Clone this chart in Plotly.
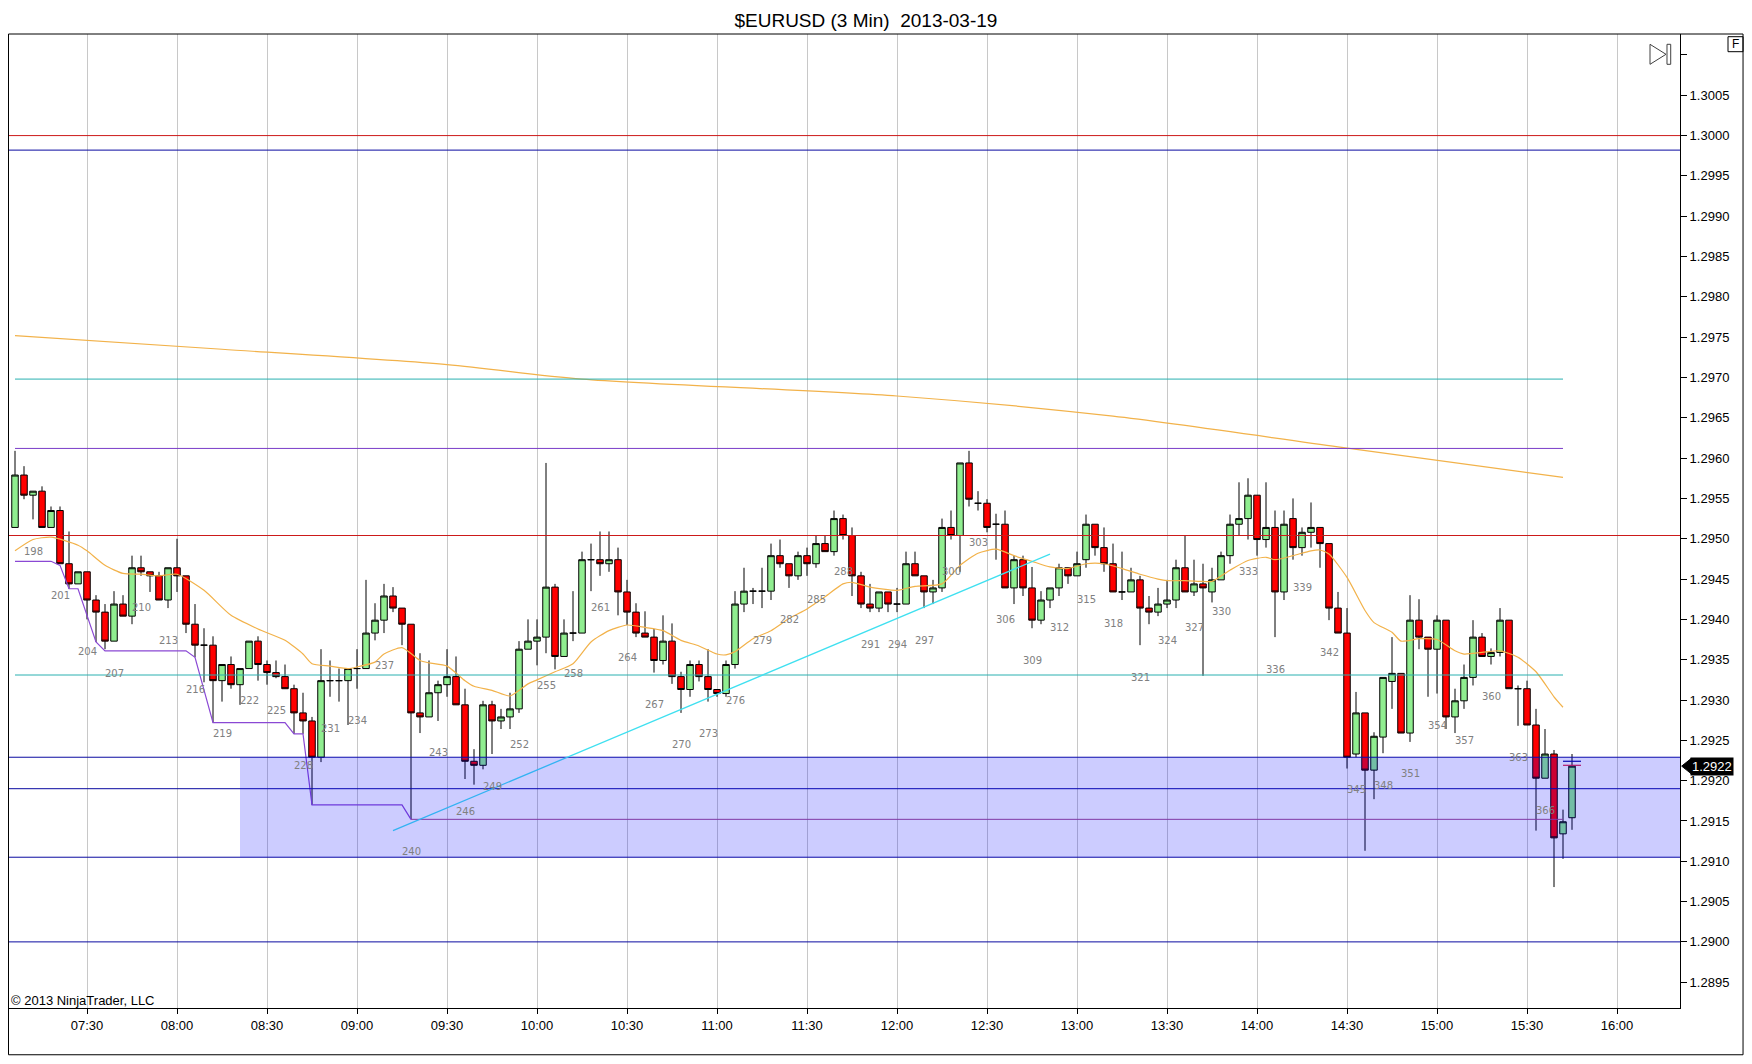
"""EURUSD 3-minute candlestick chart, 2013-03-19 session."""

import pandas as pd
import plotly.graph_objects as go

TITLE = "$EURUSD (3 Min)\u00a0 2013-03-19"
FIRST_BAR = 196
SESSION_START = "2013-03-19 07:06"
X_RANGE = ["2013-03-19 07:03:40", "2013-03-19 16:21:00"]
Y_RANGE = [1.28918, 1.30126]

# OHLC of bars 196 .. 369
opens = [
    1.29514, 1.29579, 1.29554, 1.29559, 1.29514, 1.29535, 1.29469, 1.29444, 1.29459, 1.29424,
    1.29409, 1.29373, 1.29419, 1.29404, 1.29464, 1.29459, 1.29454, 1.29424, 1.29464, 1.29454,
    1.29394, 1.29368, 1.29368, 1.29324, 1.29344, 1.29319, 1.29339, 1.29373, 1.29344, 1.29334,
    1.29329, 1.29314, 1.29284, 1.29274, 1.29229, 1.29324, 1.29324, 1.29324, 1.29339, 1.29339,
    1.29383, 1.29399, 1.29429, 1.29414, 1.29394, 1.29284, 1.29279, 1.29309, 1.29319, 1.29329,
    1.29294, 1.29224, 1.29219, 1.29294, 1.29274, 1.29279, 1.29289, 1.29363, 1.29373, 1.29378,
    1.29440, 1.29354, 1.29383, 1.29383, 1.29474, 1.29474, 1.29469, 1.29474, 1.29434, 1.29409,
    1.29383, 1.29378, 1.29349, 1.29373, 1.29329, 1.29313, 1.29344, 1.29329, 1.29313, 1.29308,
    1.29344, 1.29419, 1.29435, 1.29435, 1.29435, 1.29479, 1.29469, 1.29454, 1.29479, 1.29469,
    1.29494, 1.29484, 1.29525, 1.29504, 1.29454, 1.29419, 1.29414, 1.29434, 1.29419, 1.29419,
    1.29469, 1.29454, 1.29434, 1.29439, 1.29514, 1.29504, 1.29594, 1.29544, 1.29544, 1.29518,
    1.29518, 1.29439, 1.29474, 1.29439, 1.29399, 1.29424, 1.29439, 1.29464, 1.29454, 1.29474,
    1.29518, 1.29489, 1.29469, 1.29434, 1.29434, 1.29449, 1.29414, 1.29409, 1.29419, 1.29424,
    1.29464, 1.29434, 1.29444, 1.29434, 1.29449, 1.29479, 1.29518, 1.29525, 1.29554, 1.29499,
    1.29514, 1.29434, 1.29525, 1.29489, 1.29508, 1.29514, 1.29494, 1.29414, 1.29383, 1.29233,
    1.29284, 1.29213, 1.29254, 1.29323, 1.29333, 1.29259, 1.29399, 1.29378, 1.29363, 1.29399,
    1.29279, 1.29299, 1.29328, 1.29378, 1.29354, 1.29359, 1.29399, 1.29314, 1.29314, 1.29269,
    1.29203, 1.29233, 1.29134, 1.29154,
]
highs = [
    1.29609, 1.29590, 1.29559, 1.29565, 1.29540, 1.29540, 1.29509, 1.29459, 1.29459, 1.29430,
    1.29419, 1.29435, 1.29430, 1.29479, 1.29479, 1.29459, 1.29459, 1.29464, 1.29500, 1.29454,
    1.29419, 1.29389, 1.29379, 1.29344, 1.29354, 1.29339, 1.29373, 1.29379, 1.29349, 1.29349,
    1.29344, 1.29319, 1.29309, 1.29279, 1.29363, 1.29349, 1.29339, 1.29339, 1.29363, 1.29449,
    1.29420, 1.29444, 1.29440, 1.29414, 1.29394, 1.29358, 1.29349, 1.29324, 1.29363, 1.29354,
    1.29314, 1.29239, 1.29299, 1.29299, 1.29289, 1.29309, 1.29373, 1.29400, 1.29400, 1.29594,
    1.29444, 1.29400, 1.29435, 1.29484, 1.29494, 1.29509, 1.29509, 1.29489, 1.29449, 1.29420,
    1.29410, 1.29388, 1.29405, 1.29395, 1.29335, 1.29349, 1.29349, 1.29363, 1.29313, 1.29349,
    1.29435, 1.29464, 1.29439, 1.29464, 1.29494, 1.29499, 1.29469, 1.29484, 1.29489, 1.29504,
    1.29504, 1.29535, 1.29530, 1.29514, 1.29459, 1.29444, 1.29434, 1.29434, 1.29439, 1.29484,
    1.29484, 1.29454, 1.29449, 1.29525, 1.29535, 1.29594, 1.29609, 1.29559, 1.29549, 1.29531,
    1.29535, 1.29479, 1.29479, 1.29465, 1.29435, 1.29439, 1.29469, 1.29464, 1.29484, 1.29530,
    1.29518, 1.29514, 1.29494, 1.29484, 1.29464, 1.29454, 1.29429, 1.29439, 1.29449, 1.29474,
    1.29504, 1.29474, 1.29469, 1.29464, 1.29484, 1.29530, 1.29570, 1.29575, 1.29554, 1.29570,
    1.29535, 1.29535, 1.29550, 1.29514, 1.29545, 1.29514, 1.29494, 1.29434, 1.29414, 1.29310,
    1.29284, 1.29260, 1.29328, 1.29378, 1.29333, 1.29430, 1.29425, 1.29378, 1.29405, 1.29399,
    1.29314, 1.29344, 1.29399, 1.29383, 1.29364, 1.29414, 1.29399, 1.29318, 1.29324, 1.29289,
    1.29264, 1.29238, 1.29164, 1.29233,
]
lows = [
    1.29514, 1.29549, 1.29524, 1.29514, 1.29514, 1.29469, 1.29438, 1.29444, 1.29400, 1.29372,
    1.29363, 1.29373, 1.29404, 1.29394, 1.29454, 1.29434, 1.29424, 1.29414, 1.29434, 1.29383,
    1.29353, 1.29322, 1.29272, 1.29298, 1.29314, 1.29294, 1.29339, 1.29324, 1.29319, 1.29327,
    1.29314, 1.29258, 1.29258, 1.29170, 1.29223, 1.29304, 1.29298, 1.29269, 1.29314, 1.29339,
    1.29374, 1.29383, 1.29409, 1.29368, 1.29152, 1.29259, 1.29279, 1.29274, 1.29304, 1.29294,
    1.29202, 1.29195, 1.29214, 1.29233, 1.29264, 1.29264, 1.29284, 1.29363, 1.29343, 1.29358,
    1.29338, 1.29354, 1.29373, 1.29383, 1.29435, 1.29454, 1.29459, 1.29405, 1.29393, 1.29378,
    1.29378, 1.29334, 1.29344, 1.29320, 1.29284, 1.29304, 1.29323, 1.29298, 1.29304, 1.29304,
    1.29339, 1.29409, 1.29419, 1.29414, 1.29424, 1.29464, 1.29439, 1.29449, 1.29454, 1.29464,
    1.29484, 1.29479, 1.29499, 1.29429, 1.29414, 1.29409, 1.29409, 1.29409, 1.29409, 1.29419,
    1.29454, 1.29414, 1.29419, 1.29434, 1.29499, 1.29459, 1.29540, 1.29535, 1.29508, 1.29474,
    1.29439, 1.29419, 1.29429, 1.29389, 1.29394, 1.29414, 1.29429, 1.29444, 1.29454, 1.29464,
    1.29479, 1.29459, 1.29434, 1.29424, 1.29434, 1.29368, 1.29394, 1.29404, 1.29414, 1.29414,
    1.29434, 1.29429, 1.29330, 1.29421, 1.29449, 1.29469, 1.29504, 1.29499, 1.29479, 1.29489,
    1.29378, 1.29424, 1.29474, 1.29479, 1.29489, 1.29464, 1.29399, 1.29383, 1.29215, 1.29229,
    1.29113, 1.29177, 1.29234, 1.29289, 1.29259, 1.29248, 1.29363, 1.29304, 1.29308, 1.29264,
    1.29259, 1.29289, 1.29318, 1.29354, 1.29344, 1.29354, 1.29314, 1.29268, 1.29269, 1.29138,
    1.29203, 1.29068, 1.29103, 1.29139,
]
closes = [
    1.29579, 1.29554, 1.29559, 1.29514, 1.29535, 1.29469, 1.29444, 1.29459, 1.29424, 1.29409,
    1.29373, 1.29419, 1.29404, 1.29464, 1.29459, 1.29454, 1.29424, 1.29464, 1.29454, 1.29394,
    1.29368, 1.29368, 1.29324, 1.29344, 1.29319, 1.29339, 1.29373, 1.29344, 1.29334, 1.29329,
    1.29314, 1.29284, 1.29274, 1.29229, 1.29324, 1.29324, 1.29324, 1.29339, 1.29339, 1.29383,
    1.29399, 1.29429, 1.29414, 1.29394, 1.29284, 1.29279, 1.29309, 1.29319, 1.29329, 1.29294,
    1.29224, 1.29219, 1.29294, 1.29274, 1.29279, 1.29289, 1.29363, 1.29373, 1.29378, 1.29440,
    1.29354, 1.29383, 1.29383, 1.29474, 1.29474, 1.29469, 1.29474, 1.29434, 1.29409, 1.29383,
    1.29378, 1.29349, 1.29373, 1.29329, 1.29313, 1.29344, 1.29329, 1.29313, 1.29308, 1.29344,
    1.29419, 1.29435, 1.29435, 1.29435, 1.29479, 1.29469, 1.29454, 1.29479, 1.29469, 1.29494,
    1.29484, 1.29525, 1.29504, 1.29454, 1.29419, 1.29414, 1.29434, 1.29419, 1.29419, 1.29469,
    1.29454, 1.29434, 1.29439, 1.29514, 1.29504, 1.29594, 1.29549, 1.29544, 1.29514, 1.29518,
    1.29439, 1.29474, 1.29439, 1.29399, 1.29424, 1.29439, 1.29464, 1.29454, 1.29469, 1.29518,
    1.29489, 1.29469, 1.29434, 1.29434, 1.29449, 1.29414, 1.29409, 1.29419, 1.29424, 1.29464,
    1.29434, 1.29444, 1.29439, 1.29449, 1.29479, 1.29518, 1.29525, 1.29554, 1.29499, 1.29514,
    1.29434, 1.29518, 1.29489, 1.29508, 1.29514, 1.29494, 1.29414, 1.29383, 1.29229, 1.29284,
    1.29213, 1.29255, 1.29328, 1.29333, 1.29259, 1.29399, 1.29378, 1.29363, 1.29399, 1.29279,
    1.29299, 1.29328, 1.29378, 1.29354, 1.29359, 1.29399, 1.29314, 1.29314, 1.29269, 1.29203,
    1.29233, 1.29129, 1.29149, 1.29218,
]

# Fast moving average (thin orange), read at selected bars
fast_ma_bars = [
    196, 198, 200, 203, 204, 206, 208, 210, 212, 214, 217, 220, 223, 226, 228, 229, 231, 233,
    234, 236, 237, 239, 241, 242, 244, 246, 247, 249, 251, 253, 254, 256, 258, 260, 262, 264,
    266, 268, 270, 272, 274, 275, 276, 278, 280, 282, 284, 286, 288, 289, 291, 294, 296, 299,
    301, 303, 305, 307, 309, 311, 313, 315, 317, 319, 321, 323, 324, 326, 328, 329, 331, 333,
    335, 336, 338, 340, 341, 342, 344, 346, 347, 349, 350, 352, 354, 356, 357, 359, 361, 363,
    365, 367, 368,
]
fast_ma_values = [
    1.29485, 1.29499, 1.29502, 1.29492, 1.29485, 1.29467, 1.29457, 1.29456, 1.29454, 1.29456,
    1.29436, 1.29405, 1.29388, 1.29374, 1.29357, 1.29345, 1.29342, 1.29339, 1.29341, 1.29347,
    1.29357, 1.29365, 1.29349, 1.29346, 1.29342, 1.29324, 1.29317, 1.29312, 1.29305, 1.29320,
    1.29325, 1.29335, 1.29345, 1.29372, 1.29386, 1.29393, 1.29390, 1.29386, 1.29374, 1.29367,
    1.29357, 1.29356, 1.29360, 1.29376, 1.29386, 1.29401, 1.29413, 1.29428, 1.29444, 1.29446,
    1.29440, 1.29436, 1.29441, 1.29444, 1.29467, 1.29482, 1.29487, 1.29479, 1.29472, 1.29465,
    1.29463, 1.29469, 1.29469, 1.29463, 1.29456, 1.29450, 1.29448, 1.29448, 1.29447, 1.29447,
    1.29461, 1.29473, 1.29477, 1.29474, 1.29479, 1.29485, 1.29486, 1.29481, 1.29452, 1.29411,
    1.29396, 1.29384, 1.29373, 1.29376, 1.29375, 1.29361, 1.29357, 1.29359, 1.29361, 1.29353,
    1.29335, 1.29304, 1.29291,
]

# Slow moving average (long orange curve)
slow_ma_bars = [196, 219, 244, 259, 294, 318, 343, 368]
slow_ma_values = [1.29752, 1.29735, 1.29716, 1.29698, 1.29677, 1.29652, 1.29614, 1.29576]

# Trailing low (purple step line)
stop_bars = [196, 200, 201, 202, 203, 205, 206, 215, 216, 218, 226, 227, 228, 229, 239, 240]
stop_values = [
    1.29472, 1.29472, 1.29467, 1.29438, 1.29438, 1.29372, 1.29361, 1.29361,
    1.29353, 1.29272, 1.29272, 1.29258, 1.29258, 1.29170, 1.29170, 1.29152,
]

# Horizontal levels
full_levels = [1.30000, 1.29982, 1.29504, 1.29229, 1.29190, 1.29105, 1.29000]
full_level_colors = ["#cc1a1a", "#0a0aa0", "#cc1a1a", "#0a0aa0", "#0a0aa0", "#0a0aa0", "#0a0aa0"]
session_levels = [1.29698, 1.29612, 1.29331]
session_level_colors = ["#2ab0b0", "#7a3cc8", "#2ab0b0"]
session_level_bars = [196, 368]
pivot_level = 1.29152
pivot_level_bars = [240, 368]

zone_top, zone_bottom = 1.29229, 1.29105
zone_start_bar = 221

trend_bars = [238, 311]
trend_prices = [1.29138, 1.29481]

last_ask, last_bid = 1.29224, 1.29219

ytick_values = [
    1.2895, 1.2900, 1.2905, 1.2910, 1.2915, 1.2920, 1.2925, 1.2930, 1.2935, 1.2940, 1.2945,
    1.2950, 1.2955, 1.2960, 1.2965, 1.2970, 1.2975, 1.2980, 1.2985, 1.2990, 1.2995, 1.3000,
    1.3005, 1.3010,
]
ytick_text = [f"{v:.4f}" for v in ytick_values[:-1]] + [""]

times = pd.date_range(SESSION_START, periods=len(opens), freq="3min")
bar_numbers = list(range(FIRST_BAR, FIRST_BAR + len(opens)))


def bar_time(n):
    return times[n - FIRST_BAR]


FONT = "Liberation Sans, Arial, sans-serif"
ORANGE = "#f2b24a"

fig = go.Figure()

fig.add_trace(
    go.Candlestick(
        x=times,
        open=opens,
        high=highs,
        low=lows,
        close=closes,
        increasing={"line": {"color": "black", "width": 1}, "fillcolor": "#90ee90"},
        decreasing={"line": {"color": "black", "width": 1}, "fillcolor": "#ff0000"},
        whiskerwidth=0,
        hoverinfo="skip",
        showlegend=False,
    )
)

fig.add_trace(
    go.Scatter(
        x=[bar_time(b) for b in slow_ma_bars],
        y=slow_ma_values,
        mode="lines",
        line={"color": ORANGE, "width": 1.2, "shape": "spline", "smoothing": 0.8},
        hoverinfo="skip",
    )
)
fig.add_trace(
    go.Scatter(
        x=[bar_time(b) for b in fast_ma_bars],
        y=fast_ma_values,
        mode="lines",
        line={"color": ORANGE, "width": 1.2, "shape": "spline", "smoothing": 0.6},
        hoverinfo="skip",
    )
)
fig.add_trace(
    go.Scatter(
        x=[bar_time(b) for b in stop_bars],
        y=stop_values,
        mode="lines",
        line={"color": "#8a48d4", "width": 1.2},
        hoverinfo="skip",
    )
)

# bid / ask ticks on the last bar
tick_half = pd.Timedelta("3min")
for price, color in [(last_ask, "#0a0aa0"), (last_bid, "#e0204a")]:
    fig.add_trace(
        go.Scatter(
            x=[times[-1] - tick_half, times[-1] + tick_half],
            y=[price, price],
            mode="lines",
            line={"color": color, "width": 1.2},
            hoverinfo="skip",
        )
    )

shapes = []
for price, color in zip(full_levels, full_level_colors):
    shapes.append(
        dict(type="line", xref="paper", yref="y", x0=0, x1=1, y0=price, y1=price,
             line={"color": color, "width": 1}, layer="above")
    )
for price, color in zip(session_levels, session_level_colors):
    shapes.append(
        dict(type="line", xref="x", yref="y",
             x0=bar_time(session_level_bars[0]), x1=bar_time(session_level_bars[1]),
             y0=price, y1=price, line={"color": color, "width": 1}, layer="above")
    )
shapes.append(
    dict(type="line", xref="x", yref="y",
         x0=bar_time(pivot_level_bars[0]), x1=bar_time(pivot_level_bars[1]),
         y0=pivot_level, y1=pivot_level, line={"color": "#a04890", "width": 1}, layer="above")
)
shapes.append(
    dict(type="line", xref="x", yref="y",
         x0=bar_time(trend_bars[0]), x1=bar_time(trend_bars[1]),
         y0=trend_prices[0], y1=trend_prices[1],
         line={"color": "#3fe0f0", "width": 1.3}, layer="above")
)
# shaded zone drawn over the candles
shapes.append(
    dict(type="rect", xref="x", yref="y",
         x0=bar_time(zone_start_bar), x1=X_RANGE[1], y0=zone_bottom, y1=zone_top,
         fillcolor="rgba(0,0,255,0.2)", line={"width": 0}, layer="above")
)

# outer frame, icons, price tag pointer
shapes += [
    dict(type="rect", xref="paper", yref="paper", x0=0.0003, x1=1.0377, y0=-0.0480, y1=1,
         line={"color": "black", "width": 1}),
    dict(type="path", xref="paper", yref="paper",
         path="M 0.98206,0.98942 L 0.99163,0.97916 L 0.98206,0.96889 Z",
         line={"color": "#404040", "width": 1}),
    dict(type="rect", xref="paper", yref="paper", x0=0.99222, x1=0.99444, y0=0.96889,
         y1=0.98942, line={"color": "#404040", "width": 1}),
    dict(type="rect", xref="paper", yref="paper", x0=1.02871, x1=1.0377, y0=0.98183,
         y1=0.99723, line={"color": "black", "width": 1}),
    dict(type="path", xref="paper", yref="y",
         path=(f"M 1.0010,{closes[-1]} L 1.0066,{closes[-1] + 0.000093} "
               f"L 1.0066,{closes[-1] - 0.000093} Z"),
         fillcolor="black", line={"color": "black", "width": 1}),
]

annotations = []
# the last (still forming) bar carries no number
for n, low in zip(bar_numbers[:-1], lows[:-1]):
    if n % 3 == 0:
        annotations.append(
            dict(x=bar_time(n), y=low, xref="x", yref="y", text=str(n), showarrow=False,
                 yshift=-32, font={"family": "DejaVu Sans", "size": 10, "color": "#808080"})
        )
annotations += [
    dict(x=0.0006, y=0.008, xref="paper", yref="paper", text="© 2013 NinjaTrader, LLC",
         showarrow=False, xanchor="left", yanchor="middle",
         font={"family": FONT, "size": 13, "color": "black"}),
    dict(x=1.0332, y=0.98953, xref="paper", yref="paper", text="F", showarrow=False,
         xanchor="center", yanchor="middle",
         font={"family": FONT, "size": 12, "color": "black"}),
    dict(x=1, y=closes[-1], xref="paper", yref="y", text=f"{closes[-1]:.4f}",
         showarrow=False, xanchor="left", xshift=10, bgcolor="black", borderpad=1,
         font={"family": FONT, "size": 13, "color": "white"}),
]

# the page body keeps an 8px margin, so the figure is sized to fit inside it
fig.update_layout(
    width=1736,
    height=1048,
    title={
        "text": TITLE,
        "x": 0.4942,
        "xref": "container",
        "xanchor": "center",
        "y": 0.9885,
        "yref": "container",
        "yanchor": "middle",
        "font": {"family": FONT, "size": 19, "color": "black"},
    },
    showlegend=False,
    paper_bgcolor="white",
    plot_bgcolor="white",
    margin={"l": 0, "r": 64, "t": 26, "b": 48},
    boxgap=0.15,
    boxgroupgap=0.15,
    shapes=shapes,
    annotations=annotations,
    xaxis={
        "type": "date",
        "range": X_RANGE,
        "rangeslider": {"visible": False},
        "tickformat": "%H:%M",
        "dtick": 30 * 60 * 1000,
        "tick0": "2013-03-19 07:30",
        "ticks": "outside",
        "ticklen": 5,
        "tickcolor": "black",
        "showgrid": True,
        "gridcolor": "#c8c8c8",
        "showline": True,
        "linecolor": "black",
        "linewidth": 1,
        "zeroline": False,
        "tickfont": {"family": FONT, "size": 13, "color": "black"},
    },
    yaxis={
        "side": "right",
        "range": Y_RANGE,
        "tickmode": "array",
        "tickvals": ytick_values,
        "ticktext": ytick_text,
        "ticks": "outside",
        "ticklen": 6,
        "tickcolor": "black",
        "showgrid": False,
        "showline": True,
        "linecolor": "black",
        "linewidth": 1,
        "zeroline": False,
        "tickfont": {"family": FONT, "size": 13, "color": "black"},
    },
)

fig.write_html("out.html")
